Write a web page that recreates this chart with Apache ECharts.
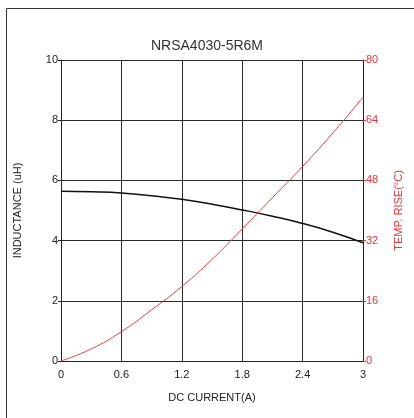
<!DOCTYPE html>
<html><head><meta charset="utf-8">
<script src="https://cdn.jsdelivr.net/npm/echarts@6/dist/echarts.min.js"></script>
<style>html,body{margin:0;padding:0;background:#fff}#c{width:414px;height:418px}</style>
</head><body><div id="c"></div>
<script>
var currents = [0, 0.3, 0.6, 0.9, 1.2, 1.5, 1.8, 2.1, 2.4, 2.7, 3.0];
var inductance = [5.64, 5.62, 5.58, 5.49, 5.37, 5.21, 5.02, 4.81, 4.57, 4.28, 3.93];
var tempRise = [0, 3.2, 7.8, 13.6, 19.8, 27.0, 35.1, 43.4, 51.7, 60.6, 70.1];
var title = 'NRSA4030-5R6M';

var F = 'Liberation Sans, Arial, sans-serif';
var chart = echarts.init(document.getElementById('c'));
chart.setOption({
  animation: false,
  title: {text: title, left: 'center', top: 34, textStyle: {fontFamily: F, fontSize: 14, fontWeight: 'normal', color: '#333'}},
  graphic: [{type: 'rect', shape: {x: 6.5, y: 8.5, width: 420, height: 420}, style: {fill: 'none', stroke: '#333', lineWidth: 1}, silent: true}],
  grid: {left: 61, right: 51, top: 60, bottom: 57},
  xAxis: {
    type: 'value', min: 0, max: 3, interval: 0.6,
    name: 'DC CURRENT(A)', nameLocation: 'middle', nameGap: 31,
    nameTextStyle: {fontFamily: F, fontSize: 11, color: '#222'},
    axisLine: {lineStyle: {color: '#222'}},
    axisTick: {show: false},
    axisLabel: {fontFamily: F, fontSize: 11, color: '#222', margin: 8, formatter: function(v){return +v.toFixed(1) + '';}},
    splitLine: {show: true, lineStyle: {color: '#2a2a2a', width: 1}}
  },
  yAxis: [{
    type: 'value', min: 0, max: 10, interval: 2,
    name: 'INDUCTANCE (uH)', nameLocation: 'middle', nameGap: 38, nameRotate: 90,
    nameTextStyle: {fontFamily: F, fontSize: 11, color: '#222'},
    axisLine: {show: true, lineStyle: {color: '#222'}},
    axisTick: {show: true, length: 3, lineStyle: {color: '#222'}},
    axisLabel: {fontFamily: F, fontSize: 11, color: '#222', margin: 3},
    splitLine: {show: true, lineStyle: {color: '#2a2a2a', width: 1}}
  }, {
    type: 'value', min: 0, max: 80, interval: 16, position: 'right',
    name: 'TEMP. RISE(°C)', nameLocation: 'middle', nameGap: 30, nameRotate: 90,
    nameTextStyle: {fontFamily: F, fontSize: 11, color: '#e8323a'},
    axisLine: {show: true, lineStyle: {color: '#222'}},
    axisTick: {show: true, length: 3, lineStyle: {color: '#e8323a'}},
    axisLabel: {fontFamily: F, fontSize: 11, color: '#e8323a', margin: 3},
    splitLine: {show: false}
  }],
  series: [{
    type: 'line', yAxisIndex: 0, smooth: true, symbol: 'none',
    data: currents.map(function(x,i){return [x, inductance[i]];}),
    lineStyle: {color: '#111', width: 1.5}
  }, {
    type: 'line', yAxisIndex: 1, smooth: true, symbol: 'none',
    data: currents.map(function(x,i){return [x, tempRise[i]];}),
    lineStyle: {color: '#ee3a3a', width: 1}
  }]
});
</script></body></html>
